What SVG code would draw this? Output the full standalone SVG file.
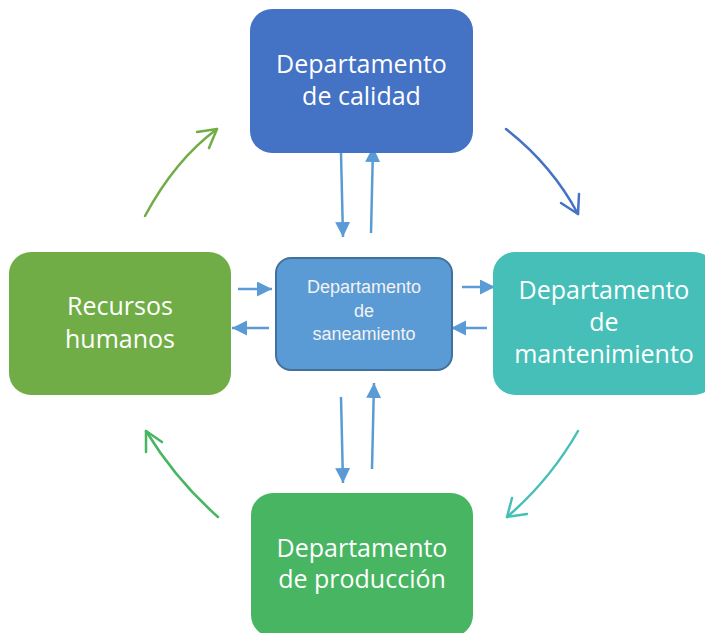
<svg xmlns="http://www.w3.org/2000/svg" width="705" height="633" viewBox="0 0 705 633">
<defs>
<marker id="tri" markerUnits="userSpaceOnUse" markerWidth="16" markerHeight="16" refX="15" refY="7.5" orient="auto" viewBox="0 0 16 16">
<path d="M0,0 L15,7.5 L0,15 z" fill="#5B9BD5"/>
</marker>
<style>
.big{font-family:"Open Sans","Noto Sans",sans-serif;font-size:25px;fill:#FFFFFF;text-anchor:middle}
.small{font-family:"Liberation Sans",Arial,sans-serif;font-size:18px;fill:#F2F2F2;text-anchor:middle}
.st{stroke:#5B9BD5;stroke-width:2.5;fill:none;marker-end:url(#tri)}
.cv{fill:none;stroke-width:2.5;stroke-linecap:round;stroke-linejoin:round}
</style>
</defs>
<rect width="705" height="633" fill="#FFFFFF"/>
<g id="connectors">
<line class="st" x1="341" y1="153" x2="343" y2="237"/>
<line class="st" x1="371" y1="233" x2="373" y2="147"/>
<line class="st" x1="341" y1="397" x2="343" y2="483"/>
<line class="st" x1="372" y1="469" x2="374" y2="383"/>
<line class="st" x1="238" y1="289" x2="272" y2="289"/>
<line class="st" x1="269" y1="328" x2="232" y2="328"/>
<line class="st" x1="462" y1="287" x2="495" y2="287"/>
<line class="st" x1="487" y1="328" x2="451" y2="328"/>
<path class="cv" stroke="#4472C4" d="M506,129 Q552,165 578,214"/>
<polyline class="cv" stroke="#4472C4" points="561,203 578,214 579,194"/>
<path class="cv" stroke="#70AD47" d="M145,216 Q175,160 217,129"/>
<polyline class="cv" stroke="#70AD47" points="197,132 217,129 209,148"/>
<path class="cv" stroke="#45BFB7" d="M578,431 Q550,480 507,517"/>
<polyline class="cv" stroke="#45BFB7" points="512,498 507,517 527,514"/>
<path class="cv" stroke="#47B562" d="M218,517 Q176,480 146,431"/>
<polyline class="cv" stroke="#47B562" points="162,442 146,431 146,452"/>
</g>
<g id="calidad">
<rect x="250" y="9" width="223" height="144" rx="22" fill="#4472C4"/>
<text class="big" x="361.5" y="73">Departamento</text>
<text class="big" x="361.5" y="105">de calidad</text>
</g>
<g id="mantenimiento">
<rect x="493" y="252" width="223" height="143" rx="22" fill="#45BFB7"/>
<text class="big" x="604" y="299">Departamento</text>
<text class="big" x="604" y="331">de</text>
<text class="big" x="604" y="363">mantenimiento</text>
</g>
<g id="recursos">
<rect x="9" y="252" width="222" height="143" rx="22" fill="#70AD47"/>
<text class="big" x="120" y="315">Recursos</text>
<text class="big" x="120" y="348">humanos</text>
</g>
<g id="produccion">
<rect x="251" y="493" width="222" height="144" rx="22" fill="#47B562"/>
<text class="big" x="362" y="557">Departamento</text>
<text class="big" x="362" y="588">de producción</text>
</g>
<g id="saneamiento">
<rect x="276" y="258" width="176" height="112" rx="15" fill="#5B9BD5" stroke="#41719C" stroke-width="2"/>
<text class="small" x="364" y="293">Departamento</text>
<text class="small" x="364" y="317">de</text>
<text class="small" x="364" y="340">saneamiento</text>
</g>
</svg>
